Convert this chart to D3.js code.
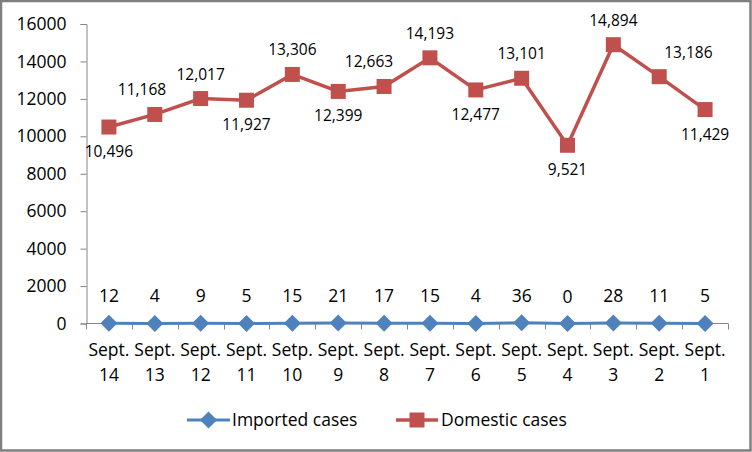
<!DOCTYPE html>
<html>
<head>
<meta charset="utf-8">
<script src="https://cdn.jsdelivr.net/npm/d3@7"></script>
<style>
  body { margin: 0; background: #fff; }
  svg text { font-family: "Open Sans", sans-serif; fill: #000; }
</style>
</head>
<body>
<div id="chart"></div>
<script>
// categories (first line / second line of the x labels)
const catWords = ['Sept.', 'Sept.', 'Sept.', 'Sept.', 'Setp.', 'Sept.', 'Sept.', 'Sept.', 'Sept.', 'Sept.', 'Sept.', 'Sept.', 'Sept.', 'Sept.'];
const catDays = ['14', '13', '12', '11', '10', '9', '8', '7', '6', '5', '4', '3', '2', '1'];
const imported = [12, 4, 9, 5, 15, 21, 17, 15, 4, 36, 0, 28, 11, 5];
const domestic = [10496, 11168, 12017, 11927, 13306, 12399, 12663, 14193, 12477, 13101, 9521, 14894, 13186, 11429];
const yTicks = [0, 2000, 4000, 6000, 8000, 10000, 12000, 14000, 16000];
const seriesNames = ['Imported cases', 'Domestic cases'];

const W = 752, H = 452;
const blue = '#4F81BD', red = '#C0504D', axisGrey = '#868686';
const axisFont = 17.5, labelFont = 15.5;
const fmt = d3.format(',');

const svg = d3.select('#chart').append('svg')
  .attr('width', W)
  .attr('height', H);

svg.append('rect')
  .attr('x', 1).attr('y', 1)
  .attr('width', W - 2.5).attr('height', H - 2.5)
  .attr('fill', '#fff')
  .attr('stroke', '#7f7f7f')
  .attr('stroke-width', 2.5);

const idx = d3.range(catDays.length);
const x = d3.scaleBand().domain(idx).range([86, 728]).padding(0);
const cx = i => x(i) + x.bandwidth() / 2;
const y = d3.scaleLinear().domain([0, 16000]).range([323.5, 24]);

// y axis
const yAxis = svg.append('g')
  .attr('transform', 'translate(86.5,0)')
  .call(d3.axisLeft(y).tickValues(yTicks).tickFormat(d3.format('d')).tickSize(6).tickPadding(14));
yAxis.selectAll('path, line').attr('stroke', axisGrey);
yAxis.selectAll('text').attr('font-size', axisFont).attr('font-family', '"Open Sans", sans-serif').attr('fill', '#000');

// x axis: line and ticks at the category boundaries
const xAxis = svg.append('g');
xAxis.append('line')
  .attr('x1', 86).attr('x2', 728)
  .attr('y1', y(0)).attr('y2', y(0))
  .attr('stroke', axisGrey);
xAxis.selectAll('line.tick')
  .data(idx.map(i => x(i)).concat([x.range()[1]]))
  .join('line')
  .attr('class', 'tick')
  .attr('x1', d => Math.round(d) + 0.5).attr('x2', d => Math.round(d) + 0.5)
  .attr('y1', y(0)).attr('y2', y(0) + 6)
  .attr('stroke', axisGrey);
const xl = xAxis.selectAll('text')
  .data(idx)
  .join('text')
  .attr('text-anchor', 'middle')
  .attr('font-size', axisFont);
xl.append('tspan').attr('x', cx).attr('y', 356).text(i => catWords[i]);
xl.append('tspan').attr('x', cx).attr('y', 381).text(i => catDays[i]);

// lines
const line = vals => d3.line().x((d, i) => cx(i)).y(d => y(d))(vals);
svg.append('path').attr('d', line(imported))
  .attr('fill', 'none').attr('stroke', blue).attr('stroke-width', 3);
svg.append('path').attr('d', line(domestic))
  .attr('fill', 'none').attr('stroke', red).attr('stroke-width', 3.5);

// markers
const diamond = (px, py, r) => `M${px},${py - r}L${px + r},${py}L${px},${py + r}L${px - r},${py}Z`;
svg.append('g').selectAll('path')
  .data(imported)
  .join('path')
  .attr('d', (d, i) => diamond(cx(i), y(d), 8.5))
  .attr('fill', blue);
svg.append('g').selectAll('rect')
  .data(domestic)
  .join('rect')
  .attr('x', (d, i) => cx(i) - 7.5)
  .attr('y', d => y(d) - 7.5)
  .attr('width', 15).attr('height', 15)
  .attr('fill', red);

// data labels
svg.append('g').selectAll('text')
  .data(imported)
  .join('text')
  .attr('x', (d, i) => cx(i))
  .attr('y', d => y(d) - 21)
  .attr('text-anchor', 'middle')
  .attr('font-size', axisFont)
  .text(d => d);

// domestic labels: below local minima, above otherwise; nudged away from the line on slopes
svg.append('g').selectAll('text')
  .data(domestic)
  .join('text')
  .each(function (d, i) {
    const prev = i > 0 ? domestic[i - 1] : null;
    const next = i < domestic.length - 1 ? domestic[i + 1] : null;
    const below = (prev === null || d < prev) && (next === null || d < next);
    let dx = 0;
    if (prev !== null && next !== null && !below && (d - prev) * (next - d) > 0) {
      dx = -(y(prev) - y(next)) * 0.45;
    }
    d3.select(this)
      .attr('x', cx(i) + dx)
      .attr('y', y(d) + (below ? 30 : -19))
      .attr('text-anchor', 'middle')
      .attr('font-size', labelFont)
      .text(fmt(d));
  });

// legend
const legend = svg.append('g');
legend.append('line').attr('x1', 187).attr('x2', 230).attr('y1', 420).attr('y2', 420)
  .attr('stroke', blue).attr('stroke-width', 3);
legend.append('path').attr('d', diamond(208.5, 420, 8.5)).attr('fill', blue);
legend.append('text').attr('x', 232).attr('y', 426).attr('font-size', axisFont).text(seriesNames[0]);
legend.append('line').attr('x1', 396).attr('x2', 438).attr('y1', 420).attr('y2', 420)
  .attr('stroke', red).attr('stroke-width', 3.5);
legend.append('rect').attr('x', 409.5).attr('y', 412.5).attr('width', 15).attr('height', 15).attr('fill', red);
legend.append('text').attr('x', 441).attr('y', 426).attr('font-size', axisFont).text(seriesNames[1]);
</script>
</body>
</html>
